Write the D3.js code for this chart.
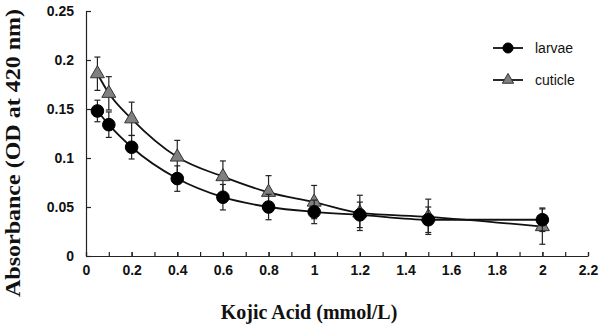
<!DOCTYPE html>
<html>
<head>
<meta charset="utf-8">
<script src="https://cdn.jsdelivr.net/npm/d3@7"></script>
<style>
  body { margin: 0; background: #fff; }
  .tick text { font-family: "Liberation Sans", Arial, sans-serif; font-weight: bold; font-size: 14px; fill: #111; }
  .axis path, .axis line { stroke: #222; stroke-width: 1.2; }
  .title { font-family: "Liberation Serif", "Times New Roman", serif; font-weight: bold; font-size: 20px; fill: #111; }
  .legend text { font-family: "Liberation Sans", Arial, sans-serif; font-size: 14px; fill: #111; }
</style>
</head>
<body>
<div id="chart"></div>
<script>
var doses       = [0.05, 0.1, 0.2, 0.4, 0.6, 0.8, 1, 1.2, 1.5, 2];
var larvae      = [0.148, 0.134, 0.111, 0.079, 0.060, 0.050, 0.045, 0.042, 0.037, 0.037];
var larvaeErr   = [0.011, 0.013, 0.012, 0.013, 0.013, 0.013, 0.012, 0.013, 0.013, 0.012];
var cuticle     = [0.186, 0.166, 0.140, 0.101, 0.081, 0.065, 0.055, 0.044, 0.040, 0.030];
var cuticleErr  = [0.017, 0.017, 0.017, 0.017, 0.016, 0.017, 0.017, 0.018, 0.018, 0.018];
var xTicks      = [0, 0.2, 0.4, 0.6, 0.8, 1, 1.2, 1.4, 1.6, 1.8, 2, 2.2];
var yTicks      = [0, 0.05, 0.1, 0.15, 0.2, 0.25];

var width  = 600, height = 327;
var margin = {top: 11, right: 12, bottom: 71, left: 86};
var w = width - margin.left - margin.right;
var h = height - margin.top - margin.bottom;

var svg = d3.select("#chart").append("svg")
    .attr("width", width)
    .attr("height", height);

var g = svg.append("g")
    .attr("transform", "translate(" + margin.left + "," + margin.top + ")");

var xScale = d3.scaleLinear().domain([0, 2.2]).range([0, w]);
var yScale = d3.scaleLinear().domain([0, 0.25]).range([h, 0]);

// minor ticks every 0.1 on x
var minor = d3.range(0, 23).map(function(i) { return i / 10; });
g.append("g")
    .attr("class", "axis")
    .attr("transform", "translate(0," + h + ")")
    .call(d3.axisBottom(xScale).tickValues(minor).tickSize(-4).tickFormat(""))
    .call(function(a) { a.select(".domain").remove(); });

g.append("g")
    .attr("class", "axis")
    .attr("transform", "translate(0," + h + ")")
    .call(d3.axisBottom(xScale).tickValues(xTicks).tickSizeInner(-4).tickSizeOuter(0).tickPadding(9)
        .tickFormat(function(d) { return d3.format("")(d); }));

g.append("g")
    .attr("class", "axis")
    .call(d3.axisLeft(yScale).tickValues(yTicks).tickSizeInner(-5).tickSizeOuter(0).tickPadding(12)
        .tickFormat(function(d) { return d3.format("")(d); }));

function drawSeries(vals, errs, kind) {
    var pts = doses.map(function(d, i) { return {x: d, y: vals[i], e: errs[i]}; });

    var line = d3.line()
        .x(function(d) { return xScale(d.x); })
        .y(function(d) { return yScale(d.y); })
        .curve(d3.curveMonotoneX);

    g.append("path")
        .datum(pts)
        .attr("fill", "none")
        .attr("stroke", "#111")
        .attr("stroke-width", 1.8)
        .attr("d", line);

    var eb = g.append("g").selectAll("g").data(pts).enter().append("g")
        .attr("stroke", "#222").attr("stroke-width", 1.2);
    eb.append("line")
        .attr("x1", function(d) { return xScale(d.x); })
        .attr("x2", function(d) { return xScale(d.x); })
        .attr("y1", function(d) { return yScale(d.y - d.e); })
        .attr("y2", function(d) { return yScale(d.y + d.e); });
    [-1, 1].forEach(function(s) {
        eb.append("line")
            .attr("x1", function(d) { return xScale(d.x) - 3; })
            .attr("x2", function(d) { return xScale(d.x) + 3; })
            .attr("y1", function(d) { return yScale(d.y + s * d.e); })
            .attr("y2", function(d) { return yScale(d.y + s * d.e); });
    });

    var sym = kind === "circle" ? d3.symbol().type(d3.symbolCircle).size(125)
                                : d3.symbol().type(d3.symbolTriangle).size(85);
    g.append("g").selectAll("path").data(pts).enter().append("path")
        .attr("transform", function(d) { return "translate(" + xScale(d.x) + "," + yScale(d.y) + ")"; })
        .attr("d", sym)
        .attr("fill", kind === "circle" ? "#000" : "#808080")
        .attr("stroke", kind === "circle" ? "#000" : "#333")
        .attr("stroke-width", 1);
}

drawSeries(cuticle, cuticleErr, "triangle");
drawSeries(larvae, larvaeErr, "circle");

// legend
var legend = svg.append("g").attr("class", "legend");
var items = [{name: "larvae", kind: "circle", y: 48}, {name: "cuticle", kind: "triangle", y: 80}];
items.forEach(function(it) {
    legend.append("line")
        .attr("x1", 493).attr("x2", 523)
        .attr("y1", it.y).attr("y2", it.y)
        .attr("stroke", "#111").attr("stroke-width", 1.8);
    var sym = it.kind === "circle" ? d3.symbol().type(d3.symbolCircle).size(80)
                                   : d3.symbol().type(d3.symbolTriangle).size(55);
    legend.append("path")
        .attr("transform", "translate(508," + it.y + ")")
        .attr("d", sym)
        .attr("fill", it.kind === "circle" ? "#000" : "#808080")
        .attr("stroke", it.kind === "circle" ? "#000" : "#333");
    legend.append("text")
        .attr("x", 535).attr("y", it.y + 5)
        .text(it.name);
});

// titles
svg.append("text")
    .attr("class", "title")
    .attr("x", 309).attr("y", 319)
    .attr("text-anchor", "middle")
    .text("Kojic Acid (mmol/L)");

svg.append("text")
    .attr("class", "title")
    .attr("transform", "translate(20,153) rotate(-90)")
    .attr("text-anchor", "middle")
    .attr("textLength", 288)
    .attr("lengthAdjust", "spacingAndGlyphs")
    .text("Absorbance (OD at 420 nm)");
</script>
</body>
</html>
